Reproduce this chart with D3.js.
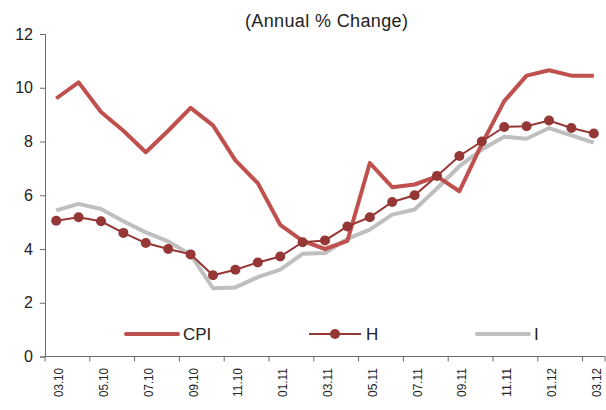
<!DOCTYPE html>
<html><head><meta charset="utf-8">
<script src="https://cdn.jsdelivr.net/npm/d3@7"></script>
<style>body{margin:0;background:#fff}svg{display:block;font-family:"Liberation Sans",Arial,sans-serif}</style>
</head><body>
<svg id="c" width="606" height="410"></svg>
<script>
const months = ["03.10","04.10","05.10","06.10","07.10","08.10","09.10","10.10","11.10","12.10","01.11","02.11","03.11","04.11","05.11","06.11","07.11","08.11","09.11","10.11","11.11","12.11","01.12","02.12","03.12"];
const cpi = [9.6,10.2,9.1,8.4,7.6,8.4,9.25,8.6,7.3,6.45,4.9,4.3,4.0,4.3,7.2,6.3,6.4,6.7,6.15,7.9,9.5,10.45,10.65,10.45,10.45];
const h   = [5.05,5.18,5.03,4.6,4.22,4.0,3.8,3.02,3.23,3.5,3.72,4.25,4.32,4.84,5.18,5.75,6.0,6.72,7.46,8.0,8.54,8.57,8.78,8.5,8.3];
const iSer= [5.44,5.68,5.49,5.03,4.62,4.28,3.79,2.54,2.57,2.95,3.23,3.82,3.85,4.38,4.72,5.28,5.47,6.25,7.08,7.7,8.18,8.1,8.5,8.23,7.96];
const yTicks = [0,2,4,6,8,10,12];
const seriesNames = ["CPI","H","I"];
const title = "(Annual % Change)";

const svg = d3.select("#c");
const L=45, R=605, T=34, B=356.5;
const x = d3.scaleBand().domain(months).range([L,R]);
const y = d3.scaleLinear().domain([0,12]).range([B,T]);
const axisCol = "#6b6b6b";

svg.append("text").attr("x",245).attr("y",27)
  .attr("font-size",18).attr("fill","#222")
  .attr("textLength",163).attr("lengthAdjust","spacing").text(title);

// y axis
const ya = svg.append("g").attr("transform",`translate(${L},0)`)
  .call(d3.axisLeft(y).tickValues(yTicks).tickSize(5).tickPadding(7));
ya.select(".domain").attr("stroke",axisCol);
ya.selectAll(".tick line").attr("stroke",axisCol);
ya.selectAll("text").attr("font-size",16).attr("fill","#222").attr("font-family","Liberation Sans, Arial, sans-serif");

// x axis
const xa = svg.append("g").attr("transform",`translate(0,${B})`);
xa.append("line").attr("x1",L).attr("x2",R).attr("stroke",axisCol);
const tickIdx = months.map((m,i)=>i).filter(i=>i%2===0);
xa.selectAll("line.tk").data(tickIdx.concat([months.length])).join("line").attr("class","tk")
  .attr("x1",i=> i<months.length? x(months[i]) : R).attr("x2",i=> i<months.length? x(months[i]) : R)
  .attr("y1",0).attr("y2",5).attr("stroke",axisCol);
xa.selectAll("text").data(tickIdx).join("text")
  .attr("transform",i=>`translate(${x(months[i])+x.bandwidth()/2+2.5},11.5) rotate(-90)`)
  .attr("text-anchor","end").attr("dy","0.35em").attr("font-size",13).attr("fill","#222")
  .attr("textLength",29).attr("lengthAdjust","spacingAndGlyphs")
  .text(i=>months[i]);

const cx = m => x(m)+x.bandwidth()/2;
const line = d3.line().x((d,i)=>cx(months[i])).y(d=>y(d));

svg.append("path").datum(iSer).attr("d",line).attr("fill","none")
  .attr("stroke","#bfbfbf").attr("stroke-width",4).attr("stroke-linejoin","round");
svg.append("path").datum(cpi).attr("d",line).attr("fill","none")
  .attr("stroke","#c0504d").attr("stroke-width",4).attr("stroke-linejoin","round");
svg.append("path").datum(h).attr("d",line).attr("fill","none")
  .attr("stroke","#953735").attr("stroke-width",2);
svg.selectAll("circle.h").data(h).join("circle").attr("class","h")
  .attr("cx",(d,i)=>cx(months[i])).attr("cy",d=>y(d)).attr("r",5).attr("fill","#953735");

// legend
const leg = [
  {n:seriesNames[0], x:126, col:"#c0504d", w:4, dot:false},
  {n:seriesNames[1], x:309, col:"#953735", w:2, dot:true},
  {n:seriesNames[2], x:477, col:"#bfbfbf", w:4, dot:false}
];
const ly = 334;
leg.forEach(l=>{
  svg.append("line").attr("x1",l.x).attr("x2",l.x+52).attr("y1",ly).attr("y2",ly)
    .attr("stroke",l.col).attr("stroke-width",l.w).attr("stroke-linecap", l.dot?"butt":"round");
  if(l.dot) svg.append("circle").attr("cx",l.x+26).attr("cy",ly).attr("r",5).attr("fill",l.col);
  svg.append("text").attr("x",l.x+57).attr("y",ly).attr("dy","0.36em").attr("font-size",17).attr("fill","#222").text(l.n);
});
</script>
</body></html>
